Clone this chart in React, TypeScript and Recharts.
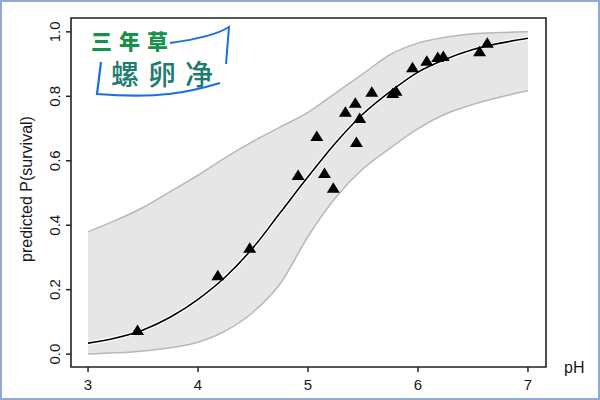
import React from 'react'
import { ComposedChart, Area, Line, Scatter, XAxis, YAxis, ZAxis, ReferenceArea } from 'recharts'

const gridPH = [3.0, 3.25, 3.5, 3.75, 4.0, 4.25, 4.5, 4.75, 5.0, 5.25, 5.5, 5.75, 6.0, 6.25, 6.5, 6.75, 7.0]
const fitted = [0.034, 0.05, 0.075, 0.115, 0.17, 0.24, 0.33, 0.44, 0.55, 0.655, 0.745, 0.815, 0.875, 0.915, 0.945, 0.965, 0.98]
const lower = [0.0, 0.004, 0.01, 0.02, 0.037, 0.072, 0.13, 0.22, 0.365, 0.485, 0.575, 0.64, 0.7, 0.745, 0.775, 0.798, 0.817]
const upper = [0.38, 0.415, 0.455, 0.505, 0.555, 0.61, 0.66, 0.705, 0.75, 0.81, 0.87, 0.93, 0.965, 0.983, 0.994, 0.998, 1.0]

// observed survival
const obsPH = [3.45, 4.18, 4.47, 4.91, 5.08, 5.15, 5.23, 5.34, 5.43, 5.44, 5.47, 5.58, 5.77, 5.8, 5.95, 6.08, 6.18, 6.23, 6.56, 6.63]
const obsP = [0.075, 0.245, 0.33, 0.556, 0.677, 0.562, 0.516, 0.752, 0.78, 0.658, 0.733, 0.814, 0.81, 0.817, 0.89, 0.91, 0.922, 0.925, 0.94, 0.966]

const xTicks = [3, 4, 5, 6, 7]
const yTicks = [0, 0.2, 0.4, 0.6, 0.8, 1.0]
const xDomain: [number, number] = [2.845, 7.164]
const yDomain: [number, number] = [-0.04, 1.043]

const curveData = gridPH.map((x, i) => ({ x, p: fitted[i], band: [lower[i], upper[i]] }))
const pointData = obsPH.map((x, i) => ({ x, y: obsP[i] }))

const FONT = '"Liberation Sans", Arial, sans-serif'

const XTick = (props: any) => {
  const { x, y, payload } = props
  return (
    <text x={x} y={y + 16} textAnchor="middle" fontSize={15} fill="#1a1a1a" fontFamily={FONT}>
      {payload.value}
    </text>
  )
}

const YTick = (props: any) => {
  const { x, y, payload } = props
  const tx = x - 4
  return (
    <text x={tx} y={y} transform={`rotate(-90, ${tx}, ${y})`} textAnchor="middle" fontSize={15} fill="#1a1a1a" fontFamily={FONT}>
      {payload.value.toFixed(1)}
    </text>
  )
}

const Tri = (props: any) => {
  const { cx, cy } = props
  return <polygon points={`${cx},${cy - 5.5} ${cx + 6.5},${cy + 5} ${cx - 6.5},${cy + 5}`} fill="#000" />
}

export default function App() {
  return (
    <div style={{ position: 'absolute', left: 0, top: 0, width: 600, height: 400, background: '#fff' }}>
      <ComposedChart width={600} height={400} data={curveData} margin={{ top: 18, right: 54, bottom: 0, left: 0 }}>
        <XAxis
          type="number"
          dataKey="x"
          domain={xDomain}
          ticks={xTicks}
          allowDataOverflow
          axisLine={false}
          tickLine={{ stroke: '#222', strokeWidth: 1.5 }}
          tickSize={5}
          height={33}
          tick={<XTick />}
        />
        <YAxis
          type="number"
          domain={yDomain}
          ticks={yTicks}
          allowDataOverflow
          axisLine={false}
          tickLine={{ stroke: '#222', strokeWidth: 1.5 }}
          tickSize={5}
          width={71}
          tick={<YTick />}
        />
        <ZAxis range={[70, 70]} />
        <Area dataKey="band" type="monotone" fill="#e6e6e6" fillOpacity={1} stroke="#b8b8b8" strokeWidth={1.5} isAnimationActive={false} />
        <Line dataKey="p" type="monotone" stroke="#fff" strokeWidth={4} dot={false} isAnimationActive={false} />
        <Line dataKey="p" type="monotone" stroke="#000" strokeWidth={1.6} dot={false} isAnimationActive={false} />
        <Scatter data={pointData} dataKey="y" shape={<Tri />} isAnimationActive={false} />
        <ReferenceArea x1={xDomain[0]} x2={xDomain[1]} y1={yDomain[0]} y2={yDomain[1]} fill="none" stroke="#222" strokeWidth={1.6} />
      </ComposedChart>
      <svg width={600} height={400} style={{ position: 'absolute', left: 0, top: 0, pointerEvents: 'none' }}>
        <text x={32} y={189} transform="rotate(-90, 32, 189)" textAnchor="middle" fontSize={16} fill="#1a1a1a" fontFamily={FONT}>
          predicted P(survival)
        </text>
        <text x={564} y={373} fontSize={16} fill="#1a1a1a" fontFamily={FONT}>pH</text>
        {/* watermark */}
        <path d="M170,43 C192,40 215,36 229,27 L226,64" fill="none" stroke="#1b6fe0" strokeWidth={2} />
        <path d="M220,83 C190,92 160,99 97,94 L101,62" fill="none" stroke="#1b6fe0" strokeWidth={2.2} />
        <text x={91} y={49} fontSize={21} fontWeight={900} letterSpacing={7} fill="#17924a" fontFamily='"Noto Sans CJK SC", sans-serif'>
          三年草
        </text>
        <text x={111} y={85} fontSize={28} fontWeight={500} letterSpacing={9} fill="#1d7b70" fontFamily='"Noto Sans CJK SC", sans-serif'>
          螺卵净
        </text>
      </svg>
      <div style={{ position: 'absolute', left: 0, top: 0, width: 600, height: 400, boxSizing: 'border-box', border: '2px solid #8eacd2', pointerEvents: 'none' }} />
    </div>
  )
}
